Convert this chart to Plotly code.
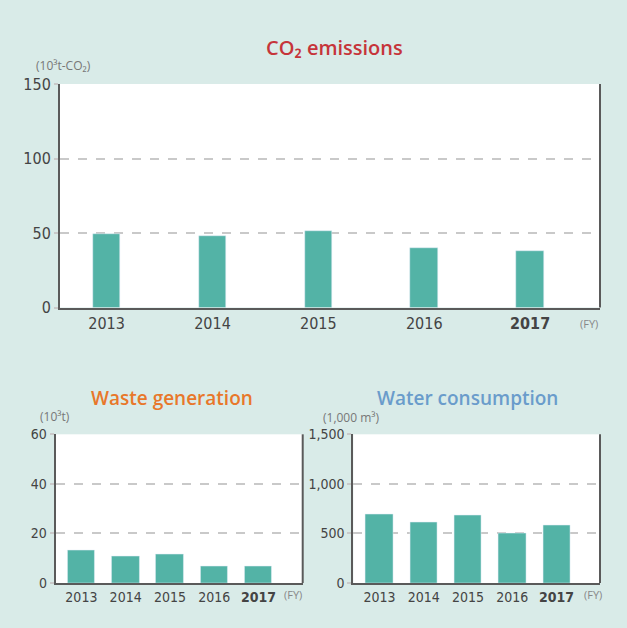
import plotly.graph_objects as go

years = ["2013", "2014", "2015", "2016", "2017"]
year_labels = ["2013", "2014", "2015", "2016", "<b>2017</b>"]
co2_values = [49.3, 48, 51.3, 39.8, 38]
waste_values = [13, 10.9, 11.7, 6.9, 6.9]
water_values = [690, 612, 680, 497, 578]

W, H = 627, 628
BAR = "#53b3a6"
AX = "#5a5a5a"
GRID = "#c9c9c9"
TICKFONT = "Liberation Sans Narrow, DejaVu Sans Condensed, sans-serif"
TITLEFONT = "Open Sans, Noto Sans, sans-serif"

def px(x):
    return x / W

def py(y):
    return 1 - y / H

fig = go.Figure()
xpos = list(range(len(years)))

fig.add_trace(go.Bar(x=xpos, y=co2_values, marker_color=BAR, width=0.26,
                     xaxis="x", yaxis="y", showlegend=False))
fig.add_trace(go.Bar(x=xpos, y=waste_values, marker_color=BAR, width=0.62,
                     xaxis="x2", yaxis="y2", showlegend=False))
fig.add_trace(go.Bar(x=xpos, y=water_values, marker_color=BAR, width=0.62,
                     xaxis="x3", yaxis="y3", showlegend=False))

def xax(domain, rng, anchor, size):
    return dict(domain=domain, range=rng, anchor=anchor, tickvals=xpos, ticktext=year_labels,
                showline=True, linecolor=AX, linewidth=2, mirror=False, ticks="",
                showgrid=False, zeroline=False, fixedrange=True, automargin=False,
                tickfont=dict(family=TICKFONT, size=size, color="#444444"))

def yax(domain, rng, dtick, anchor, size, fmt=None):
    d = dict(domain=domain, range=rng, dtick=dtick, anchor=anchor,
             showline=True, linecolor=AX, linewidth=2, ticks="outside", ticklen=4,
             tickcolor=GRID, tickwidth=1.5, automargin=False,
             showgrid=True, gridcolor=GRID, griddash="dash", gridwidth=1.5,
             zeroline=False, fixedrange=True,
             tickfont=dict(family=TICKFONT, size=size, color="#444444"))
    if fmt:
        d["tickformat"] = fmt
    return d

fig.update_layout(
    width=W, height=H,
    margin=dict(l=0, r=0, t=0, b=0, pad=0, autoexpand=False),
    paper_bgcolor="#d9ebe8",
    plot_bgcolor="#ffffff",
    bargap=0,
    xaxis=xax([px(60), px(600)], [-0.44, 4.66], "y", 16),
    yaxis=yax([py(307.5), py(84)], [0, 150], 50, "x", 16),
    xaxis2=xax([px(55.7), px(302.7)], [-0.58, 5.0], "y2", 14),
    yaxis2=yax([py(583), py(434.3)], [0, 60], 20, "x2", 14),
    xaxis3=xax([px(353.3), px(600)], [-0.59, 4.98], "y3", 14),
    yaxis3=yax([py(583), py(434.3)], [0, 1500], 500, "x3", 14, fmt=","),
)

# right border lines
for (x, y0, y1) in [(600, 84, 307.5), (302.7, 434.3, 583), (600, 434.3, 583)]:
    fig.add_shape(type="line", xref="paper", yref="paper",
                  x0=px(x), x1=px(x), y0=py(y1), y1=py(y0),
                  line=dict(color=AX, width=2))

def txt(x, y, s, size, color, family=TITLEFONT, anchor="center", weight="normal"):
    fig.add_annotation(x=px(x), y=py(y), xref="paper", yref="paper", text=s,
                       showarrow=False, xanchor=anchor, yanchor="middle",
                       font=dict(family=family, size=size, color=color, weight=weight))

txt(334, 47, "CO₂ emissions", 20, "#c6343a", weight=600)
txt(172, 398, "Waste generation", 19, "#e8772a", weight=600)
txt(467, 398, "Water consumption", 19, "#6a9ccb", weight=600)

txt(34, 66, "(10³t-CO₂)", 12, "#777777", anchor="left")
txt(38, 416, "(10³t)", 12, "#777777", anchor="left")
txt(321, 417, "(1,000 m³)", 12, "#777777", anchor="left")

txt(589, 323, "(FY)", 11, "#888888")
txt(293, 594, "(FY)", 11, "#888888")
txt(593, 594, "(FY)", 11, "#888888")

fig.write_html("out.html", config={"displayModeBar": False},
               post_script="document.body.style.margin='0';document.body.style.padding='0';document.documentElement.style.overflow='hidden';")
